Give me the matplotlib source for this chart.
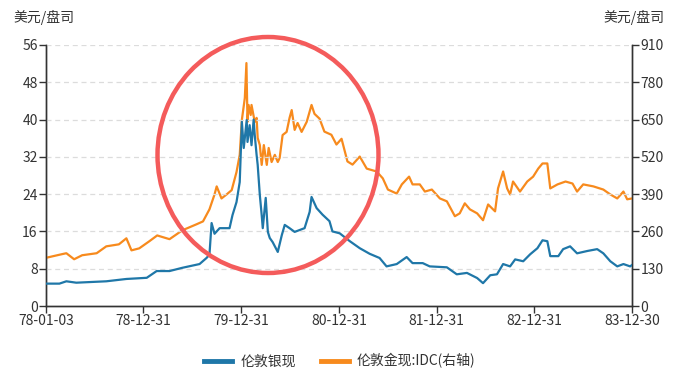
import matplotlib
matplotlib.use("Agg")
import matplotlib.pyplot as plt
from matplotlib.patches import Ellipse
import pandas as pd

plt.rcParams["font.family"] = ["Noto Sans CJK SC", "DejaVu Sans"]

# London silver spot, USD/oz (left axis)
silver_dates = [
    "1978-01-03", "1978-02-22", "1978-03-20", "1978-04-26", "1978-08-16", "1978-10-30",
    "1979-01-14", "1979-02-20", "1979-04-09", "1979-05-27", "1979-07-30", "1979-08-25",
    "1979-09-05", "1979-09-13", "1979-09-24", "1979-10-13", "1979-11-01", "1979-11-19",
    "1979-11-30", "1979-12-15", "1979-12-27", "1980-01-04", "1980-01-11", "1980-01-22",
    "1980-01-25", "1980-02-02", "1980-02-09", "1980-02-17", "1980-02-21", "1980-02-28",
    "1980-03-03", "1980-03-11", "1980-03-18", "1980-03-22", "1980-04-02", "1980-04-10",
    "1980-04-17", "1980-04-28", "1980-05-17", "1980-06-01", "1980-06-12", "1980-06-30",
    "1980-07-19", "1980-08-25", "1980-09-13", "1980-09-20", "1980-10-09", "1980-10-31",
    "1980-11-26", "1980-12-07", "1981-01-03", "1981-02-10", "1981-03-19", "1981-04-25",
    "1981-06-01", "1981-06-27", "1981-08-04", "1981-09-10", "1981-10-02", "1981-11-09",
    "1981-12-05", "1982-02-07", "1982-03-16", "1982-04-23", "1982-05-31", "1982-06-22",
    "1982-07-19", "1982-08-13", "1982-09-05", "1982-10-01", "1982-10-20", "1982-11-19",
    "1982-12-15", "1983-01-11", "1983-01-30", "1983-02-17", "1983-02-28", "1983-03-30",
    "1983-04-17", "1983-05-13", "1983-06-08", "1983-07-16", "1983-08-22", "1983-09-14",
    "1983-10-10", "1983-11-05", "1983-11-28", "1983-12-23", "1983-12-30",
]
silver = [
    4.8, 4.8, 5.3, 5.0, 5.3, 5.8,
    6.05, 7.5, 7.5, 8.2, 9.0, 10.3,
    11.0, 17.8, 15.5, 16.7, 16.7, 16.7,
    19.5, 22.3, 26.6, 39.5, 33.9, 39.9,
    35.2, 38.8, 34.5, 40.0, 36.7, 32.4,
    30.3, 23.8, 19.5, 16.7, 23.2, 15.9,
    14.6, 13.7, 11.6, 15.2, 17.4, 16.7,
    15.9, 16.7, 20.2, 23.4, 21.0, 19.6,
    18.2, 16.0, 15.6, 13.9, 12.4, 11.2,
    10.3, 8.5, 9.0, 10.5, 9.2, 9.2,
    8.5, 8.3, 6.8, 7.1, 6.0, 4.9,
    6.6, 6.8, 9.0, 8.5, 10.0, 9.6,
    11.1, 12.4, 14.1, 13.9, 10.7, 10.7,
    12.2, 12.8, 11.3, 11.8, 12.2, 11.3,
    9.6, 8.5, 9.0, 8.5, 8.8,
]

# London gold spot, IDC, USD/oz (right axis)
gold_dates = [
    "1978-01-03", "1978-03-05", "1978-03-20", "1978-04-18", "1978-05-18", "1978-07-11",
    "1978-08-16", "1978-10-02", "1978-10-30", "1978-11-18", "1978-12-17", "1979-01-24",
    "1979-02-22", "1979-04-09", "1979-05-27", "1979-07-19", "1979-08-12", "1979-09-05",
    "1979-09-24", "1979-10-02", "1979-10-20", "1979-11-08", "1979-11-27", "1979-12-15",
    "1979-12-27", "1980-01-04", "1980-01-15", "1980-01-21", "1980-01-25", "1980-01-29",
    "1980-02-06", "1980-02-09", "1980-02-21", "1980-02-28", "1980-03-03", "1980-03-11",
    "1980-03-18", "1980-03-26", "1980-04-06", "1980-04-13", "1980-04-24", "1980-05-06",
    "1980-05-17", "1980-05-24", "1980-06-04", "1980-06-19", "1980-06-30", "1980-07-08",
    "1980-07-19", "1980-07-30", "1980-08-14", "1980-09-02", "1980-09-20", "1980-10-01",
    "1980-10-20", "1980-11-07", "1980-12-03", "1980-12-22", "1981-01-10", "1981-02-01",
    "1981-02-20", "1981-03-19", "1981-04-14", "1981-05-21", "1981-06-13", "1981-07-02",
    "1981-08-04", "1981-08-23", "1981-09-19", "1981-10-02", "1981-10-29", "1981-11-17",
    "1981-12-13", "1982-01-12", "1982-02-07", "1982-03-09", "1982-03-27", "1982-04-15",
    "1982-05-04", "1982-05-31", "1982-06-22", "1982-07-11", "1982-08-06", "1982-08-17",
    "1982-09-05", "1982-09-20", "1982-10-01", "1982-10-12", "1982-11-07", "1982-12-04",
    "1982-12-26", "1983-01-14", "1983-01-30", "1983-02-17", "1983-02-28", "1983-03-27",
    "1983-04-26", "1983-05-22", "1983-06-08", "1983-07-01", "1983-08-08", "1983-09-14",
    "1983-10-10", "1983-11-05", "1983-11-28", "1983-12-12", "1983-12-30",
]
gold = [
    168, 181, 184, 163, 177, 184,
    208, 215, 236, 194, 201, 226,
    246, 233, 264, 285, 295, 337,
    389, 417, 375, 389, 404, 467,
    527, 649, 725, 847, 642, 701,
    666, 701, 642, 656, 586, 561,
    492, 561, 492, 551, 502, 527,
    502, 516, 596, 607, 656, 683,
    614, 638, 607, 642, 701, 670,
    653, 608, 597, 563, 583, 504,
    493, 521, 479, 469, 445, 406,
    392, 424, 451, 424, 424, 399,
    406, 375, 365, 313, 323, 358,
    337, 323, 299, 354, 330, 410,
    469, 410, 389, 434, 399, 434,
    451, 479, 497, 497, 410, 424,
    434, 427, 399, 424, 417, 406,
    389, 375, 399, 372, 375,
]

tick_labels = ["78-01-03", "78-12-31", "79-12-31", "80-12-31", "81-12-31", "82-12-31", "83-12-30"]
tick_dates = ["1978-01-03", "1978-12-31", "1979-12-31", "1980-12-31", "1981-12-31", "1982-12-31", "1983-12-30"]

BLUE = "#1f77a8"
ORANGE = "#f78a1d"
TXT = "#333333"

fig = plt.figure(figsize=(6.8, 3.75), dpi=100)
ax1 = fig.add_axes([46 / 680, 1 - 306 / 375, 586 / 680, 261 / 375])
ax2 = ax1.twinx()

ax1.plot(pd.to_datetime(silver_dates), silver, color=BLUE, lw=1.6, label="伦敦银现", zorder=3)
ax2.plot(pd.to_datetime(gold_dates), gold, color=ORANGE, lw=1.6, label="伦敦金现:IDC(右轴)", zorder=3)

ax1.set_xlim(pd.Timestamp("1978-01-03"), pd.Timestamp("1983-12-30"))
ax1.set_ylim(0, 56)
ax1.set_yticks(range(0, 57, 8))
ax2.set_ylim(0, 910)
ax2.set_yticks(range(0, 911, 130))
ax1.set_xticks(pd.to_datetime(tick_dates))
ax1.set_xticklabels(tick_labels)

ax1.grid(axis="y", ls=(0, (4, 3)), color="#dcdcdc", lw=0.9)
ax1.set_axisbelow(True)
for ax in (ax1, ax2):
    ax.spines["top"].set_visible(False)
    for s in ("left", "right", "bottom"):
        ax.spines[s].set_color(TXT)
        ax.spines[s].set_linewidth(1.0)
    ax.tick_params(colors=TXT, labelsize=10, length=5, width=1.0, pad=1)
ax1.set_zorder(ax2.get_zorder() + 1)
ax1.patch.set_visible(False)

fig.text(13 / 680, 1 - 17 / 375, "美元/盘司", fontsize=10, color=TXT, va="center", ha="left")
fig.text(664 / 680, 1 - 17 / 375, "美元/盘司", fontsize=10, color=TXT, va="center", ha="right")

# red highlight circle around the 1979-80 spike
circle = Ellipse((268 / 680, 1 - 155 / 375), 221 / 680, 236 / 375, transform=fig.transFigure,
                 fill=False, edgecolor="#f45b5b", lw=3.2, zorder=10)
fig.patches.append(circle)

h1, l1 = ax1.get_legend_handles_labels()
h2, l2 = ax2.get_legend_handles_labels()
leg = fig.legend(h1 + h2, l1 + l2, loc="center", bbox_to_anchor=(0.5, 1 - 361 / 375), ncol=2,
                 frameon=False, fontsize=10, handlelength=2.0, columnspacing=1.8, handletextpad=0.6)
for line in leg.get_lines():
    line.set_linewidth(3.5)
for t in leg.get_texts():
    t.set_color(TXT)

fig.savefig("out.png", dpi=100)
